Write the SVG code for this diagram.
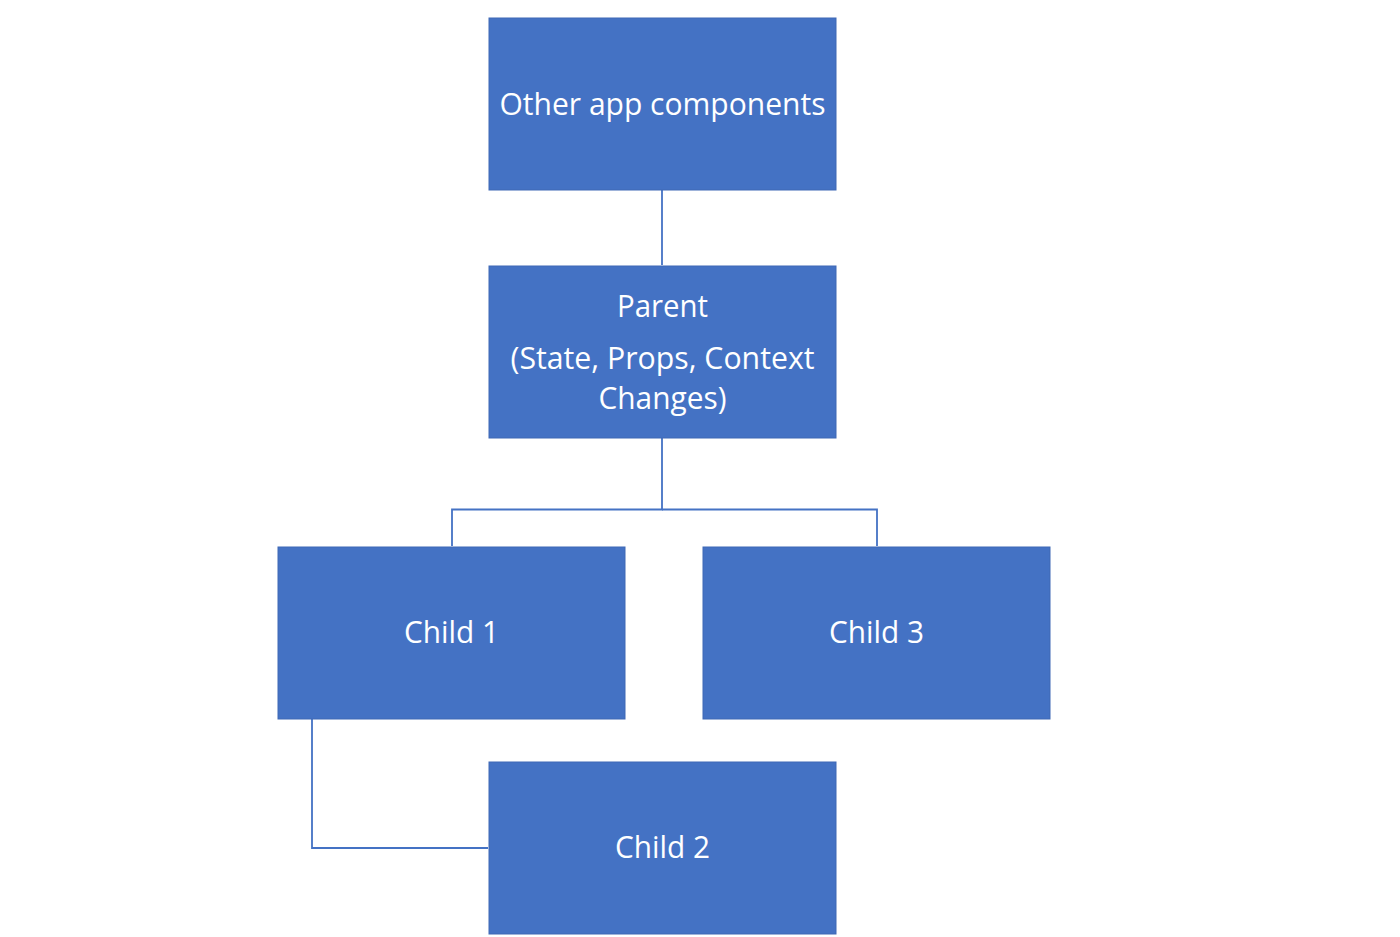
<svg xmlns="http://www.w3.org/2000/svg" width="1400" height="937" viewBox="0 0 1400 937">
<style>
.box{fill:#4472C4;stroke:#3F69B5;stroke-width:1}
.t{font-family:"Open Sans","Liberation Sans",sans-serif;font-size:31px;fill:#FFFFFF;text-anchor:middle}
.c{fill:none;stroke:#4472C4;stroke-width:1.8}
</style>
<rect width="1400" height="937" fill="#FFFFFF"/>
<g id="connectors">
<line class="c" x1="662" y1="190" x2="662" y2="265"/>
<polyline class="c" points="662,438 662,509.5 452,509.5 452,546"/>
<polyline class="c" points="662,509.5 877,509.5 877,546"/>
<polyline class="c" points="312,719 312,848 488,848"/>
</g>
<g id="other">
<rect class="box" x="489" y="18" width="347" height="172"/>
<text class="t" x="662.5" y="115" textLength="326" lengthAdjust="spacingAndGlyphs">Other app components</text>
</g>
<g id="parent">
<rect class="box" x="489" y="266" width="347" height="172"/>
<text class="t" x="662.5" y="317" textLength="91" lengthAdjust="spacingAndGlyphs">Parent</text>
<text class="t" x="662.5" y="369" textLength="304" lengthAdjust="spacingAndGlyphs">(State, Props, Context</text>
<text class="t" x="662.5" y="409" textLength="128" lengthAdjust="spacingAndGlyphs">Changes)</text>
</g>
<g id="child1">
<rect class="box" x="278" y="547" width="347" height="172"/>
<text class="t" x="451.5" y="643" textLength="95" lengthAdjust="spacingAndGlyphs">Child 1</text>
</g>
<g id="child3">
<rect class="box" x="703" y="547" width="347" height="172"/>
<text class="t" x="876.5" y="643" textLength="95" lengthAdjust="spacingAndGlyphs">Child 3</text>
</g>
<g id="child2">
<rect class="box" x="489" y="762" width="347" height="172"/>
<text class="t" x="662.5" y="858" textLength="95" lengthAdjust="spacingAndGlyphs">Child 2</text>
</g>
</svg>
